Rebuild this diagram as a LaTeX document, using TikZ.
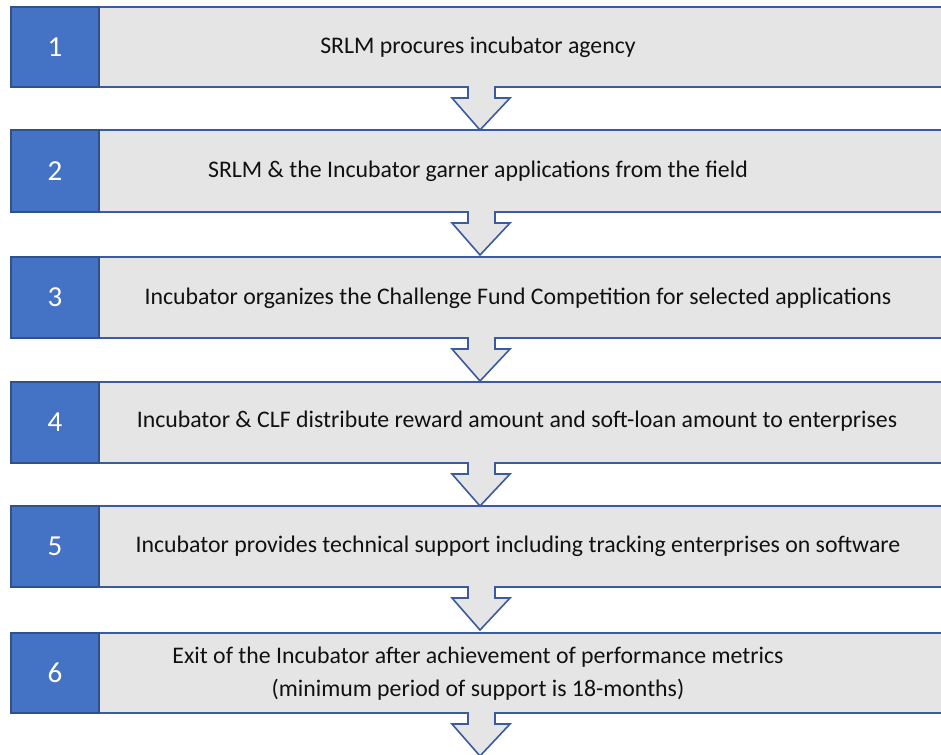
\documentclass[tikz,border=0pt]{standalone}
\usepackage{fontspec}
\setmainfont{Carlito}
\definecolor{stepblue}{HTML}{4472C4}
\definecolor{stepedge}{HTML}{2F528F}
\definecolor{bandedge}{HTML}{3A5C9E}
\definecolor{bandgray}{HTML}{E5E5E5}
\definecolor{steptext}{HTML}{111111}
\tikzset{
  band/.style={fill=bandgray, draw=bandedge, line width=1.6pt, line join=miter},
  numbox/.style={fill=stepblue, draw=stepedge, line width=1.4pt, minimum width=88pt,
    inner sep=0pt, text=white, font=\fontsize{29}{32}\selectfont},
  steplabel/.style={text=steptext, inner sep=0pt, align=center,
    font=\fontsize{23.8}{33}\selectfont}
}
\begin{document}
\begin{tikzpicture}[x=1pt,y=-1pt]
\useasboundingbox (0,0) rectangle (941,754);
\clip (0,0) rectangle (941,754);
% grey bands with a block arrow hanging from each one
\foreach \t/\b [count=\i] in {7/87,130/212,257/338,382/463,506/587,633/713} {
  \path[band] (11,\t) -- (980,\t) -- (980,\b) -- (495,\b) -- (495,\b+11)
    -- (510,\b+11) -- (480,\b+43) -- (452,\b+11) -- (468,\b+11) -- (468,\b)
    -- (11,\b) -- cycle;
  \node[numbox, minimum height=\b-\t] (n\i) at (55,{(\t+\b)/2}) {\i};
}
% step descriptions
\node[steplabel] (t1) at (478,47)  {SRLM procures incubator agency};
\node[steplabel] (t2) at (478,171) {SRLM \& the Incubator garner applications from the field};
\node[steplabel] (t3) at (518,298) {Incubator organizes the Challenge Fund Competition for selected applications};
\node[steplabel] (t4) at (517,421) {Incubator \& CLF distribute reward amount and soft-loan amount to enterprises};
\node[steplabel] (t5) at (518,546) {Incubator provides technical support including tracking enterprises on software};
\node[steplabel] (t6) at (478,674) {Exit of the Incubator after achievement of performance metrics\\(minimum period of support is 18-months)};
\end{tikzpicture}
\end{document}
